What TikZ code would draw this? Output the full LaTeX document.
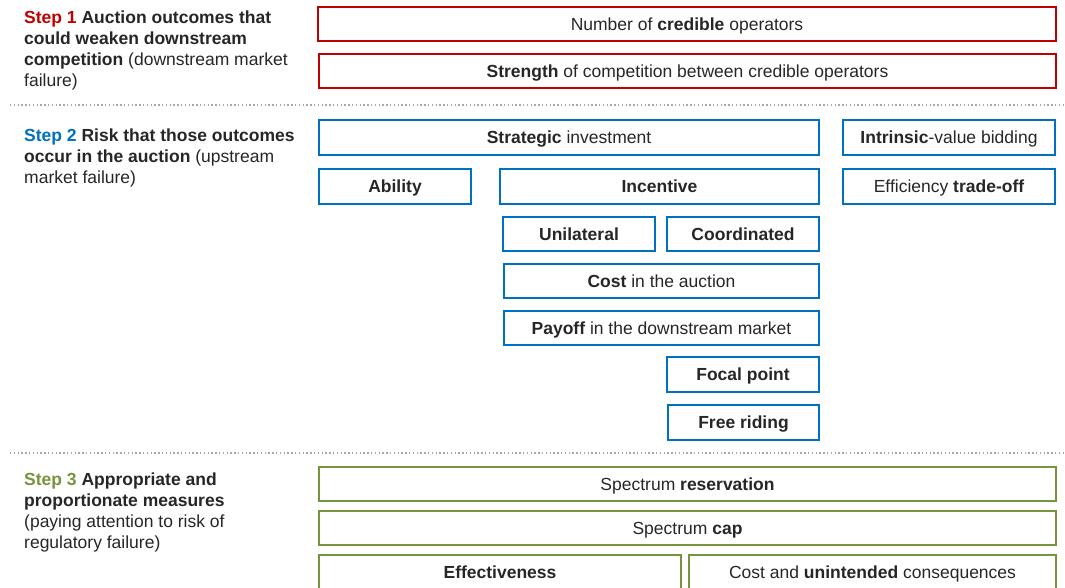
\documentclass[tikz,border=0pt]{standalone}
\usepackage{fontspec}
\setmainfont{Liberation Sans}
\definecolor{sred}{HTML}{C00000}
\definecolor{sblue}{HTML}{0070C0}
\definecolor{sgreen}{HTML}{77933C}
\definecolor{txt}{HTML}{262626}
\definecolor{sep}{HTML}{A8A4B4}
\begin{document}
\begin{tikzpicture}[x=1pt,y=-1pt,
  bx/.style={draw, line width=1.3pt, inner sep=0pt, text=txt,
    text height=12.6pt, text depth=0pt,
    font=\fontsize{17.5}{21}\selectfont},
  rbox/.style={bx, draw=sred},
  bbox/.style={bx, draw=sblue},
  gbox/.style={bx, draw=sgreen},
  steptxt/.style={anchor=north west, align=left, inner sep=0pt, text=txt,
    font=\fontsize{17.5}{21}\selectfont},
  sepline/.style={draw=sep, line width=1.5pt, dash pattern=on 1.4pt off 2.4pt}]
\useasboundingbox (0,0) rectangle (1065,588);
\clip (0,0) rectangle (1065,588);
% left texts
\node[steptxt] (t1) at (24,11) {\textcolor{sred}{\textbf{Step 1}} \textbf{Auction outcomes that}\\
\textbf{could weaken downstream}\\
\textbf{competition} (downstream market\\
failure)};
\node[steptxt] (t2) at (24,129) {\textcolor{sblue}{\textbf{Step 2}} \textbf{Risk that those outcomes}\\
\textbf{occur in the auction} (upstream\\
market failure)};
\node[steptxt] (t3) at (24,473) {\textcolor{sgreen}{\textbf{Step 3}} \textbf{Appropriate and}\\
\textbf{proportionate measures}\\
(paying attention to risk of\\
regulatory failure)};
% separators
\coordinate (s1a) at (10,105);
\coordinate (s1b) at (1066,105);
\coordinate (s2a) at (10,453);
\coordinate (s2b) at (1066,453);
\draw[sepline] (s1a) -- (s1b);
\draw[sepline] (s2a) -- (s2b);
% step 1
\node[rbox, minimum width=738, minimum height=34] (n1) at (687,24) {Number of \textbf{credible} operators};
\node[rbox, minimum width=737, minimum height=34] (n2) at (687.5,71) {\textbf{Strength} of competition between credible operators};
% step 2
\node[bbox, minimum width=500, minimum height=35] (si) at (569,137.5) {\textbf{Strategic} investment};
\node[bbox, minimum width=212, minimum height=35] (iv) at (949,137.5) {\textbf{Intrinsic}-value bidding};
\node[bbox, minimum width=152, minimum height=35] (ab) at (395,186.5) {\textbf{Ability}};
\node[bbox, minimum width=319, minimum height=35] (in) at (659.5,186.5) {\textbf{Incentive}};
\node[bbox, minimum width=212, minimum height=35] (et) at (949,186.5) {Efficiency \textbf{trade-off}};
\node[bbox, minimum width=152, minimum height=34] (un) at (579,234) {\textbf{Unilateral}};
\node[bbox, minimum width=152, minimum height=34] (co) at (743,234) {\textbf{Coordinated}};
\node[bbox, minimum width=315, minimum height=34] (ca) at (661.5,281) {\textbf{Cost} in the auction};
\node[bbox, minimum width=315, minimum height=34] (pd) at (661.5,328) {\textbf{Payoff} in the downstream market};
\node[bbox, minimum width=152, minimum height=35] (fp) at (743,374.5) {\textbf{Focal point}};
\node[bbox, minimum width=151, minimum height=35] (fr) at (743.5,422.5) {\textbf{Free riding}};
% step 3
\node[gbox, minimum width=737, minimum height=34] (sr) at (687.5,484) {Spectrum \textbf{reservation}};
\node[gbox, minimum width=737, minimum height=34] (sc) at (687.5,528) {Spectrum \textbf{cap}};
\node[gbox, minimum width=362, minimum height=34] (ef) at (500,572) {\textbf{Effectiveness}};
\node[gbox, minimum width=367, minimum height=34] (cu) at (872.5,572) {Cost and \textbf{unintended} consequences};
\end{tikzpicture}
\end{document}
